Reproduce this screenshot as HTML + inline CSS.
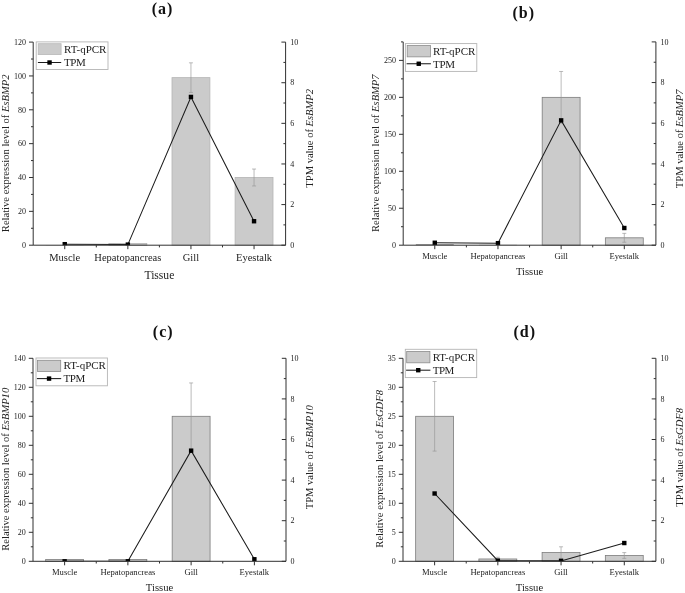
<!DOCTYPE html>
<html><head><meta charset="utf-8"><title>BMP expression</title>
<style>
html,body{margin:0;padding:0;background:#fff;}
body{width:685px;height:593px;overflow:hidden;font-family:"Liberation Serif",serif;}
svg{display:block;will-change:transform;filter:grayscale(1);font-family:'Liberation Serif', serif;}
</style></head><body>
<svg width="685" height="593" viewBox="0 0 685 593">
<rect width="685" height="593" fill="#fff"/>
<g>
<rect x="45.8" y="245.03" width="37.9" height="0.17" fill="#9c9c9c"/>
<rect x="108.9" y="243.51" width="37.9" height="1.69" fill="#cbcbcb" stroke="#b4b4b4" stroke-width="0.8"/>
<rect x="172" y="77.64" width="37.9" height="167.56" fill="#cbcbcb" stroke="#b4b4b4" stroke-width="0.8"/>
<rect x="235.1" y="177.5" width="37.9" height="67.7" fill="#cbcbcb" stroke="#b4b4b4" stroke-width="0.8"/>
<path d="M190.95 62.83V92.45M188.95 62.83h4M188.95 92.45h4" stroke="#969696" stroke-width="0.65" fill="none"/>
<path d="M254.05 169.04V185.96M252.05 169.04h4M252.05 185.96h4" stroke="#969696" stroke-width="0.65" fill="none"/>
<text x="64.75" y="260.8" font-size="10.5" text-anchor="middle" fill="#222">Muscle</text>
<text x="127.85" y="260.8" font-size="10.5" text-anchor="middle" fill="#222">Hepatopancreas</text>
<text x="190.95" y="260.8" font-size="10.5" text-anchor="middle" fill="#222">Gill</text>
<text x="254.05" y="260.8" font-size="10.5" text-anchor="middle" fill="#222">Eyestalk</text>
<text x="159.4" y="278.9" font-size="11.6" text-anchor="middle" fill="#222">Tissue</text>
<clipPath id="ca"><rect x="33.2" y="32.1" width="252.4" height="213.1"/></clipPath><g clip-path="url(#ca)">
<polyline points="64.75,244.18 127.85,244.59 190.95,96.94 254.05,221.23" stroke="#1c1c1c" stroke-width="1.05" fill="none"/>
<rect x="62.55" y="241.98" width="4.4" height="4.4" fill="#000"/>
<rect x="125.65" y="242.39" width="4.4" height="4.4" fill="#000"/>
<rect x="188.75" y="94.74" width="4.4" height="4.4" fill="#000"/>
<rect x="251.85" y="219.03" width="4.4" height="4.4" fill="#000"/>
</g>
<path d="M33.2 42.1V245.2H285.6V42.1" stroke="#303030" stroke-width="1" fill="none"/>
<text x="25.9" y="247.9" font-size="8" text-anchor="end" fill="#222">0</text>
<text x="25.9" y="214.05" font-size="8" text-anchor="end" fill="#222">20</text>
<text x="25.9" y="180.2" font-size="8" text-anchor="end" fill="#222">40</text>
<text x="25.9" y="146.35" font-size="8" text-anchor="end" fill="#222">60</text>
<text x="25.9" y="112.5" font-size="8" text-anchor="end" fill="#222">80</text>
<text x="25.9" y="78.65" font-size="8" text-anchor="end" fill="#222">100</text>
<text x="25.9" y="44.8" font-size="8" text-anchor="end" fill="#222">120</text>
<text x="290.2" y="247.9" font-size="8" text-anchor="start" fill="#222">0</text>
<text x="290.2" y="207.28" font-size="8" text-anchor="start" fill="#222">2</text>
<text x="290.2" y="166.66" font-size="8" text-anchor="start" fill="#222">4</text>
<text x="290.2" y="126.04" font-size="8" text-anchor="start" fill="#222">6</text>
<text x="290.2" y="85.42" font-size="8" text-anchor="start" fill="#222">8</text>
<text x="290.2" y="44.8" font-size="8" text-anchor="start" fill="#222">10</text>
<path d="M33.2 245.2h-4.2M33.2 228.27h-2.2M33.2 211.35h-4.2M33.2 194.42h-2.2M33.2 177.5h-4.2M33.2 160.57h-2.2M33.2 143.65h-4.2M33.2 126.72h-2.2M33.2 109.8h-4.2M33.2 92.88h-2.2M33.2 75.95h-4.2M33.2 59.03h-2.2M33.2 42.1h-4.2M285.6 245.2h-4.2M285.6 224.89h-2.2M285.6 204.58h-4.2M285.6 184.27h-2.2M285.6 163.96h-4.2M285.6 143.65h-2.2M285.6 123.34h-4.2M285.6 103.03h-2.2M285.6 82.72h-4.2M285.6 62.41h-2.2M285.6 42.1h-4.2M64.75 245.2v4M127.85 245.2v4M190.95 245.2v4M254.05 245.2v4M96.3 245.2v2.2M159.4 245.2v2.2M222.5 245.2v2.2" stroke="#303030" stroke-width="1" fill="none"/>
<text transform="translate(9.3 153.35) rotate(-90)" font-size="10.55" text-anchor="middle" fill="#222">Relative expression level of <tspan font-style="italic">EsBMP2</tspan></text>
<text transform="translate(312.6 138.3) rotate(-90)" font-size="10.55" text-anchor="middle" fill="#222">TPM value of <tspan font-style="italic">EsBMP2</tspan></text>
<rect x="36.2" y="41.9" width="71.8" height="27.6" fill="#fff" stroke="#b4b4b4" stroke-width="0.9"/>
<rect x="38.2" y="43.7" width="22.9" height="10.9" fill="#cbcbcb" stroke="#b8b8b8" stroke-width="0.8"/>
<path d="M37.9 62.5h23.3" stroke="#1c1c1c" stroke-width="1.05"/>
<rect x="47.35" y="60.3" width="4.4" height="4.4" fill="#000"/>
<text x="64.1" y="53.2" font-size="11.0" fill="#222">RT-qPCR</text>
<text x="64.1" y="66.2" font-size="11.0" letter-spacing="-0.5" fill="#222">TPM</text>
<text x="162.5" y="13.6" font-size="16" letter-spacing="1" font-weight="bold" text-anchor="middle" fill="#111">(a)</text>
</g>
<g>
<rect x="415.84" y="244.09" width="37.9" height="1.11" fill="#9c9c9c"/>
<rect x="479.01" y="244.83" width="37.9" height="0.37" fill="#9c9c9c"/>
<rect x="542.19" y="97.35" width="37.9" height="147.85" fill="#cbcbcb" stroke="#7c7c7c" stroke-width="0.8"/>
<rect x="605.36" y="237.81" width="37.9" height="7.39" fill="#cbcbcb" stroke="#7c7c7c" stroke-width="0.8"/>
<path d="M561.14 71.47V123.22M559.14 71.47h4M559.14 123.22h4" stroke="#969696" stroke-width="0.65" fill="none"/>
<path d="M624.31 233.37V242.24M622.31 233.37h4M622.31 242.24h4" stroke="#969696" stroke-width="0.65" fill="none"/>
<text x="434.79" y="258.8" font-size="8.6" text-anchor="middle" fill="#222">Muscle</text>
<text x="497.96" y="258.8" font-size="8.6" text-anchor="middle" fill="#222">Hepatopancreas</text>
<text x="561.14" y="258.8" font-size="8.6" text-anchor="middle" fill="#222">Gill</text>
<text x="624.31" y="258.8" font-size="8.6" text-anchor="middle" fill="#222">Eyestalk</text>
<text x="529.55" y="275.1" font-size="10.6" text-anchor="middle" fill="#222">Tissue</text>
<clipPath id="cb"><rect x="403.2" y="31.9" width="252.7" height="213.3"/></clipPath><g clip-path="url(#cb)">
<polyline points="434.79,242.76 497.96,243.17 561.14,120.37 624.31,228" stroke="#1c1c1c" stroke-width="1.05" fill="none"/>
<rect x="432.59" y="240.56" width="4.4" height="4.4" fill="#000"/>
<rect x="495.76" y="240.97" width="4.4" height="4.4" fill="#000"/>
<rect x="558.94" y="118.17" width="4.4" height="4.4" fill="#000"/>
<rect x="622.11" y="225.8" width="4.4" height="4.4" fill="#000"/>
</g>
<path d="M403.2 41.9V245.2H655.9V41.9" stroke="#303030" stroke-width="1" fill="none"/>
<text x="395.9" y="247.9" font-size="8" text-anchor="end" fill="#222">0</text>
<text x="395.9" y="210.94" font-size="8" text-anchor="end" fill="#222">50</text>
<text x="395.9" y="173.97" font-size="8" text-anchor="end" fill="#222">100</text>
<text x="395.9" y="137.01" font-size="8" text-anchor="end" fill="#222">150</text>
<text x="395.9" y="100.05" font-size="8" text-anchor="end" fill="#222">200</text>
<text x="395.9" y="63.08" font-size="8" text-anchor="end" fill="#222">250</text>
<text x="660.5" y="247.9" font-size="8" text-anchor="start" fill="#222">0</text>
<text x="660.5" y="207.24" font-size="8" text-anchor="start" fill="#222">2</text>
<text x="660.5" y="166.58" font-size="8" text-anchor="start" fill="#222">4</text>
<text x="660.5" y="125.92" font-size="8" text-anchor="start" fill="#222">6</text>
<text x="660.5" y="85.26" font-size="8" text-anchor="start" fill="#222">8</text>
<text x="660.5" y="44.6" font-size="8" text-anchor="start" fill="#222">10</text>
<path d="M403.2 245.2h-4.2M403.2 226.72h-2.2M403.2 208.24h-4.2M403.2 189.75h-2.2M403.2 171.27h-4.2M403.2 152.79h-2.2M403.2 134.31h-4.2M403.2 115.83h-2.2M403.2 97.35h-4.2M403.2 78.86h-2.2M403.2 60.38h-4.2M403.2 41.9h-2.2M655.9 245.2h-4.2M655.9 224.87h-2.2M655.9 204.54h-4.2M655.9 184.21h-2.2M655.9 163.88h-4.2M655.9 143.55h-2.2M655.9 123.22h-4.2M655.9 102.89h-2.2M655.9 82.56h-4.2M655.9 62.23h-2.2M655.9 41.9h-4.2M434.79 245.2v4M497.96 245.2v4M561.14 245.2v4M624.31 245.2v4M466.38 245.2v2.2M529.55 245.2v2.2M592.72 245.2v2.2" stroke="#303030" stroke-width="1" fill="none"/>
<text transform="translate(379.2 153.2) rotate(-90)" font-size="10.55" text-anchor="middle" fill="#222">Relative expression level of <tspan font-style="italic">EsBMP7</tspan></text>
<text transform="translate(683 138.8) rotate(-90)" font-size="10.55" text-anchor="middle" fill="#222">TPM value of <tspan font-style="italic">EsBMP7</tspan></text>
<rect x="405.4" y="43.6" width="71.4" height="27.8" fill="#fff" stroke="#b4b4b4" stroke-width="0.9"/>
<rect x="407.2" y="45.55" width="23.2" height="11.3" fill="#cbcbcb" stroke="#8c8c8c" stroke-width="0.8"/>
<path d="M406.6 63.75h24.3" stroke="#1c1c1c" stroke-width="1.05"/>
<rect x="416.55" y="61.55" width="4.4" height="4.4" fill="#000"/>
<text x="433" y="54.8" font-size="11.0" fill="#222">RT-qPCR</text>
<text x="433" y="67.8" font-size="11.0" letter-spacing="-0.3" fill="#222">TPM</text>
<text x="523.75" y="17.6" font-size="16" letter-spacing="1" font-weight="bold" text-anchor="middle" fill="#111">(b)</text>
</g>
<g>
<rect x="45.67" y="559.56" width="37.9" height="1.74" fill="#cbcbcb" stroke="#7c7c7c" stroke-width="0.8"/>
<rect x="108.92" y="559.56" width="37.9" height="1.74" fill="#cbcbcb" stroke="#7c7c7c" stroke-width="0.8"/>
<rect x="172.18" y="416.3" width="37.9" height="145" fill="#cbcbcb" stroke="#7c7c7c" stroke-width="0.8"/>
<path d="M191.12 382.95V449.65M189.12 382.95h4M189.12 449.65h4" stroke="#969696" stroke-width="0.65" fill="none"/>
<text x="64.62" y="574.9" font-size="8.6" text-anchor="middle" fill="#222">Muscle</text>
<text x="127.88" y="574.9" font-size="8.6" text-anchor="middle" fill="#222">Hepatopancreas</text>
<text x="191.12" y="574.9" font-size="8.6" text-anchor="middle" fill="#222">Gill</text>
<text x="254.38" y="574.9" font-size="8.6" text-anchor="middle" fill="#222">Eyestalk</text>
<text x="159.5" y="591.1" font-size="10.6" text-anchor="middle" fill="#222">Tissue</text>
<clipPath id="cc"><rect x="33" y="348.3" width="253" height="213"/></clipPath><g clip-path="url(#cc)">
<polyline points="64.62,561.3 127.88,561.3 191.12,450.66 254.38,559.27" stroke="#1c1c1c" stroke-width="1.05" fill="none"/>
<rect x="62.42" y="559.1" width="4.4" height="4.4" fill="#000"/>
<rect x="125.67" y="559.1" width="4.4" height="4.4" fill="#000"/>
<rect x="188.93" y="448.46" width="4.4" height="4.4" fill="#000"/>
<rect x="252.18" y="557.07" width="4.4" height="4.4" fill="#000"/>
</g>
<path d="M33 358.3V561.3H286V358.3" stroke="#303030" stroke-width="1" fill="none"/>
<text x="25.7" y="564" font-size="8" text-anchor="end" fill="#222">0</text>
<text x="25.7" y="535" font-size="8" text-anchor="end" fill="#222">20</text>
<text x="25.7" y="506" font-size="8" text-anchor="end" fill="#222">40</text>
<text x="25.7" y="477" font-size="8" text-anchor="end" fill="#222">60</text>
<text x="25.7" y="448" font-size="8" text-anchor="end" fill="#222">80</text>
<text x="25.7" y="419" font-size="8" text-anchor="end" fill="#222">100</text>
<text x="25.7" y="390" font-size="8" text-anchor="end" fill="#222">120</text>
<text x="25.7" y="361" font-size="8" text-anchor="end" fill="#222">140</text>
<text x="290.6" y="564" font-size="8" text-anchor="start" fill="#222">0</text>
<text x="290.6" y="523.4" font-size="8" text-anchor="start" fill="#222">2</text>
<text x="290.6" y="482.8" font-size="8" text-anchor="start" fill="#222">4</text>
<text x="290.6" y="442.2" font-size="8" text-anchor="start" fill="#222">6</text>
<text x="290.6" y="401.6" font-size="8" text-anchor="start" fill="#222">8</text>
<text x="290.6" y="361" font-size="8" text-anchor="start" fill="#222">10</text>
<path d="M33 561.3h-4.2M33 546.8h-2.2M33 532.3h-4.2M33 517.8h-2.2M33 503.3h-4.2M33 488.8h-2.2M33 474.3h-4.2M33 459.8h-2.2M33 445.3h-4.2M33 430.8h-2.2M33 416.3h-4.2M33 401.8h-2.2M33 387.3h-4.2M33 372.8h-2.2M33 358.3h-4.2M286 561.3h-4.2M286 541h-2.2M286 520.7h-4.2M286 500.4h-2.2M286 480.1h-4.2M286 459.8h-2.2M286 439.5h-4.2M286 419.2h-2.2M286 398.9h-4.2M286 378.6h-2.2M286 358.3h-4.2M64.62 561.3v4M127.88 561.3v4M191.12 561.3v4M254.38 561.3v4M96.25 561.3v2.2M159.5 561.3v2.2M222.75 561.3v2.2" stroke="#303030" stroke-width="1" fill="none"/>
<text transform="translate(9.3 469.25) rotate(-90)" font-size="10.55" text-anchor="middle" fill="#222">Relative expression level of <tspan font-style="italic">EsBMP10</tspan></text>
<text transform="translate(313 457.3) rotate(-90)" font-size="10.55" text-anchor="middle" fill="#222">TPM value of <tspan font-style="italic">EsBMP10</tspan></text>
<rect x="36" y="358" width="71.4" height="27.8" fill="#fff" stroke="#b4b4b4" stroke-width="0.9"/>
<rect x="37.5" y="360.3" width="23.2" height="11.3" fill="#cbcbcb" stroke="#8c8c8c" stroke-width="0.8"/>
<path d="M36.9 378.6h24.3" stroke="#1c1c1c" stroke-width="1.05"/>
<rect x="46.85" y="376.4" width="4.4" height="4.4" fill="#000"/>
<text x="63.6" y="369.3" font-size="11.0" fill="#222">RT-qPCR</text>
<text x="63.6" y="382.3" font-size="11.0" letter-spacing="-0.5" fill="#222">TPM</text>
<text x="163.2" y="337.2" font-size="16" letter-spacing="1" font-weight="bold" text-anchor="middle" fill="#111">(c)</text>
</g>
<g>
<rect x="415.66" y="416.3" width="37.9" height="145" fill="#cbcbcb" stroke="#7c7c7c" stroke-width="0.8"/>
<rect x="478.89" y="558.98" width="37.9" height="2.32" fill="#cbcbcb" stroke="#7c7c7c" stroke-width="0.8"/>
<rect x="542.11" y="552.6" width="37.9" height="8.7" fill="#cbcbcb" stroke="#7c7c7c" stroke-width="0.8"/>
<rect x="605.34" y="555.5" width="37.9" height="5.8" fill="#cbcbcb" stroke="#7c7c7c" stroke-width="0.8"/>
<path d="M434.61 381.5V451.1M432.61 381.5h4M432.61 451.1h4" stroke="#969696" stroke-width="0.65" fill="none"/>
<path d="M497.84 557.24V560.72M495.84 557.24h4M495.84 560.72h4" stroke="#969696" stroke-width="0.65" fill="none"/>
<path d="M561.06 546.8V558.4M559.06 546.8h4M559.06 558.4h4" stroke="#969696" stroke-width="0.65" fill="none"/>
<path d="M624.29 552.6V558.4M622.29 552.6h4M622.29 558.4h4" stroke="#969696" stroke-width="0.65" fill="none"/>
<text x="434.61" y="574.9" font-size="8.6" text-anchor="middle" fill="#222">Muscle</text>
<text x="497.84" y="574.9" font-size="8.6" text-anchor="middle" fill="#222">Hepatopancreas</text>
<text x="561.06" y="574.9" font-size="8.6" text-anchor="middle" fill="#222">Gill</text>
<text x="624.29" y="574.9" font-size="8.6" text-anchor="middle" fill="#222">Eyestalk</text>
<text x="529.45" y="591.1" font-size="10.6" text-anchor="middle" fill="#222">Tissue</text>
<clipPath id="cd"><rect x="403" y="348.3" width="252.9" height="213"/></clipPath><g clip-path="url(#cd)">
<polyline points="434.61,493.5 497.84,560.69 561.06,560.89 624.29,543.03" stroke="#1c1c1c" stroke-width="1.05" fill="none"/>
<rect x="432.41" y="491.3" width="4.4" height="4.4" fill="#000"/>
<rect x="495.64" y="558.49" width="4.4" height="4.4" fill="#000"/>
<rect x="558.86" y="558.69" width="4.4" height="4.4" fill="#000"/>
<rect x="622.09" y="540.83" width="4.4" height="4.4" fill="#000"/>
</g>
<path d="M403 358.3V561.3H655.9V358.3" stroke="#303030" stroke-width="1" fill="none"/>
<text x="395.7" y="564" font-size="8" text-anchor="end" fill="#222">0</text>
<text x="395.7" y="535" font-size="8" text-anchor="end" fill="#222">5</text>
<text x="395.7" y="506" font-size="8" text-anchor="end" fill="#222">10</text>
<text x="395.7" y="477" font-size="8" text-anchor="end" fill="#222">15</text>
<text x="395.7" y="448" font-size="8" text-anchor="end" fill="#222">20</text>
<text x="395.7" y="419" font-size="8" text-anchor="end" fill="#222">25</text>
<text x="395.7" y="390" font-size="8" text-anchor="end" fill="#222">30</text>
<text x="395.7" y="361" font-size="8" text-anchor="end" fill="#222">35</text>
<text x="660.5" y="564" font-size="8" text-anchor="start" fill="#222">0</text>
<text x="660.5" y="523.4" font-size="8" text-anchor="start" fill="#222">2</text>
<text x="660.5" y="482.8" font-size="8" text-anchor="start" fill="#222">4</text>
<text x="660.5" y="442.2" font-size="8" text-anchor="start" fill="#222">6</text>
<text x="660.5" y="401.6" font-size="8" text-anchor="start" fill="#222">8</text>
<text x="660.5" y="361" font-size="8" text-anchor="start" fill="#222">10</text>
<path d="M403 561.3h-4.2M403 546.8h-2.2M403 532.3h-4.2M403 517.8h-2.2M403 503.3h-4.2M403 488.8h-2.2M403 474.3h-4.2M403 459.8h-2.2M403 445.3h-4.2M403 430.8h-2.2M403 416.3h-4.2M403 401.8h-2.2M403 387.3h-4.2M403 372.8h-2.2M403 358.3h-4.2M655.9 561.3h-4.2M655.9 541h-2.2M655.9 520.7h-4.2M655.9 500.4h-2.2M655.9 480.1h-4.2M655.9 459.8h-2.2M655.9 439.5h-4.2M655.9 419.2h-2.2M655.9 398.9h-4.2M655.9 378.6h-2.2M655.9 358.3h-4.2M434.61 561.3v4M497.84 561.3v4M561.06 561.3v4M624.29 561.3v4M466.23 561.3v2.2M529.45 561.3v2.2M592.67 561.3v2.2" stroke="#303030" stroke-width="1" fill="none"/>
<text transform="translate(383.4 468.85) rotate(-90)" font-size="10.55" text-anchor="middle" fill="#222">Relative expression level of <tspan font-style="italic">EsGDF8</tspan></text>
<text transform="translate(682.6 457.3) rotate(-90)" font-size="10.55" text-anchor="middle" fill="#222">TPM value of <tspan font-style="italic">EsGDF8</tspan></text>
<rect x="405.3" y="349.3" width="71.4" height="28.3" fill="#fff" stroke="#b4b4b4" stroke-width="0.9"/>
<rect x="406.7" y="351.5" width="23.2" height="11.3" fill="#cbcbcb" stroke="#8c8c8c" stroke-width="0.8"/>
<path d="M406.1 370.2h24.3" stroke="#1c1c1c" stroke-width="1.05"/>
<rect x="416.05" y="368" width="4.4" height="4.4" fill="#000"/>
<text x="432.7" y="360.85" font-size="11.0" fill="#222">RT-qPCR</text>
<text x="432.7" y="373.6" font-size="11.0" letter-spacing="-0.5" fill="#222">TPM</text>
<text x="524.7" y="337.2" font-size="16" letter-spacing="1" font-weight="bold" text-anchor="middle" fill="#111">(d)</text>
</g>
</svg>
</body></html>
